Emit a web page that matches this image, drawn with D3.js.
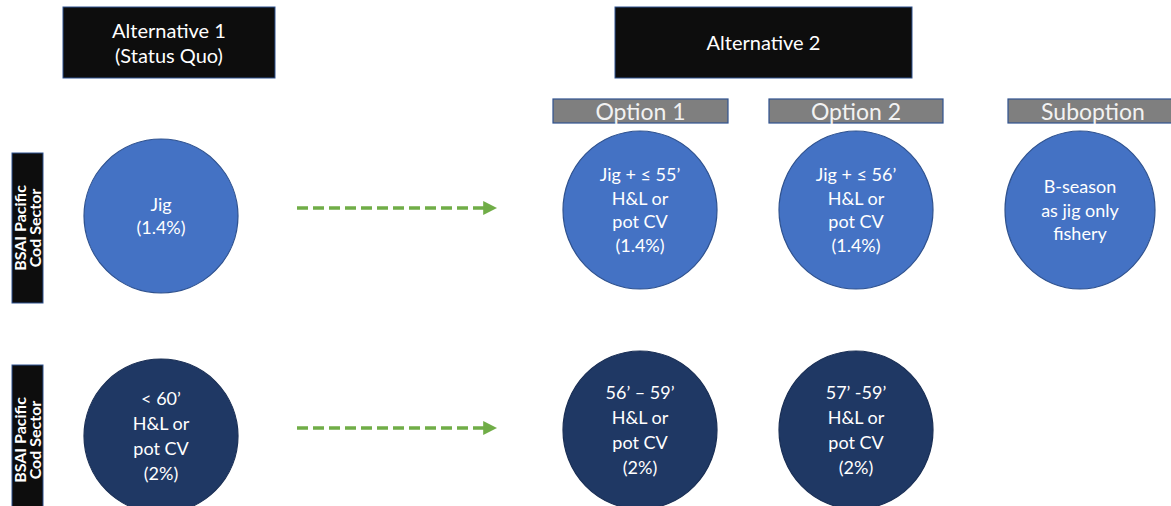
<!DOCTYPE html>
<html>
<head>
<meta charset="utf-8">
<script src="https://cdn.jsdelivr.net/npm/d3@7"></script>
<style>
  html, body { margin: 0; padding: 0; background: #fff; }
  svg { display: block; }
  text { font-family: Lato, "Open Sans", sans-serif; }
</style>
</head>
<body>
<svg id="chart" width="1171" height="506"></svg>
<script>
// column keys and the two alternative headers
const columns = ['status', 'opt1', 'opt2', 'sub'];
const headers = [
  { key: 'alt1', lines: ['Alternative 1', '(Status Quo)'] },
  { key: 'alt2', lines: ['Alternative 2'] },
];
const options = [
  { col: 'opt1', label: 'Option 1' },
  { col: 'opt2', label: 'Option 2' },
  { col: 'sub', label: 'Suboption' },
];
const rows = ['jig', 'small'];
const rowLabels = ['BSAI Pacific', 'Cod Sector'];

const circles = [
  { row: 'jig', col: 'status', lines: ['Jig', '(1.4%)'] },
  { row: 'jig', col: 'opt1', lines: ['Jig + \u2264 55\u2019', 'H&L or', 'pot CV', '(1.4%)'] },
  { row: 'jig', col: 'opt2', lines: ['Jig + \u2264 56\u2019', 'H&L or', 'pot CV', '(1.4%)'] },
  { row: 'jig', col: 'sub', lines: ['B-season', 'as jig only', 'fishery'] },
  { row: 'small', col: 'status', lines: ['< 60\u2019', 'H&L or', 'pot CV', '(2%)'] },
  { row: 'small', col: 'opt1', lines: ['56\u2019 \u2013 59\u2019', 'H&L or', 'pot CV', '(2%)'] },
  { row: 'small', col: 'opt2', lines: ['57\u2019 -59\u2019', 'H&L or', 'pot CV', '(2%)'] },
];

const svg = d3.select('#chart');

// layout scales
const x = d3.scaleOrdinal().domain(columns).range([161, 640, 856, 1080]);
const y = d3.scaleOrdinal().domain(rows).range([216, 436]);
const fill = d3.scaleOrdinal().domain(rows).range(['#4472c4', '#1f3864']);
const border = d3.scaleOrdinal().domain(rows).range(['#2f528f', '#1a2f55']);
const lineGap = d3.scaleOrdinal().domain(rows).range([23.5, 25]);

// header boxes
const headerBox = {
  alt1: { x0: 63, x1: 275 },
  alt2: { x0: 615, x1: 912 },
};
const hdr = svg.selectAll('g.header').data(headers).join('g').attr('class', 'header');
hdr.append('rect')
  .attr('x', (d) => headerBox[d.key].x0)
  .attr('y', 7)
  .attr('width', (d) => headerBox[d.key].x1 - headerBox[d.key].x0)
  .attr('height', 71)
  .attr('fill', '#0d0d0d')
  .attr('stroke', '#2f528f')
  .attr('stroke-width', 1);
hdr.append('text')
  .attr('fill', '#fff')
  .attr('font-size', 20)
  .attr('text-anchor', 'middle')
  .selectAll('tspan')
  .data((d) => d.lines.map((l, i) => ({ l, i, n: d.lines.length, d })))
  .join('tspan')
  .attr('x', (t) => (headerBox[t.d.key].x0 + headerBox[t.d.key].x1) / 2)
  .attr('y', (t) => 43 + (t.i - (t.n - 1) / 2) * 25 + 7)
  .text((t) => t.l);

// option tabs
const tab = {
  opt1: { x0: 553, x1: 728 },
  opt2: { x0: 769, x1: 943 },
  sub: { x0: 1008, x1: 1176 },
};
const opt = svg.selectAll('g.opt').data(options).join('g').attr('class', 'opt');
opt.append('rect')
  .attr('x', (d) => tab[d.col].x0)
  .attr('y', 99)
  .attr('width', (d) => tab[d.col].x1 - tab[d.col].x0)
  .attr('height', 24)
  .attr('fill', '#7f7f7f')
  .attr('stroke', '#2f528f')
  .attr('stroke-width', 1.2);
opt.append('text')
  .attr('x', (d) => d.col === 'sub' ? 1093 : (tab[d.col].x0 + tab[d.col].x1) / 2)
  .attr('y', 120)
  .attr('text-anchor', 'middle')
  .attr('font-size', 23)
  .attr('fill', '#f2f2f2')
  .text((d) => d.label);

// row labels (rotated)
const rowBox = d3.scaleOrdinal().domain(rows).range([153, 365]);
const rl = svg.selectAll('g.rowlabel').data(rows).join('g').attr('class', 'rowlabel');
rl.append('rect')
  .attr('x', 12)
  .attr('y', (d) => rowBox(d))
  .attr('width', 31)
  .attr('height', 150)
  .attr('fill', '#0d0d0d')
  .attr('stroke', '#2f528f')
  .attr('stroke-width', 1);
rl.append('text')
  .attr('transform', (d) => `translate(28,${rowBox(d) + 75}) rotate(-90)`)
  .attr('text-anchor', 'middle')
  .attr('fill', '#fff')
  .attr('font-size', 16)
  .attr('font-weight', 700)
  .selectAll('tspan')
  .data(rowLabels.map((l, i) => ({ l, i })))
  .join('tspan')
  .attr('x', 0)
  .attr('y', (t) => (t.i - 0.5) * 15.5 + 5.5)
  .text((t) => t.l);

// dashed arrows
const defs = svg.append('defs');
defs.append('marker')
  .attr('id', 'head')
  .attr('viewBox', '0 0 10 10')
  .attr('refX', 2)
  .attr('refY', 5)
  .attr('markerWidth', 4)
  .attr('markerHeight', 4)
  .attr('orient', 'auto')
  .append('path')
  .attr('d', 'M0,0L10,5L0,10Z')
  .attr('fill', '#70ad47');
svg.selectAll('line.arrow').data(rows).join('line')
  .attr('class', 'arrow')
  .attr('x1', 297)
  .attr('x2', 486)
  .attr('y1', (d) => y(d) - 8)
  .attr('y2', (d) => y(d) - 8)
  .attr('stroke', '#70ad47')
  .attr('stroke-width', 3.5)
  .attr('stroke-dasharray', '11 5')
  .attr('marker-end', 'url(#head)');

// circles
const c = svg.selectAll('g.circle').data(circles).join('g').attr('class', 'circle')
  .attr('transform', (d) => `translate(${x(d.col)},${y(d.row) - (d.col === 'status' ? 0 : 6)})`);
c.append('ellipse')
  .attr('rx', (d) => (d.col === 'sub' ? 75 : 77))
  .attr('ry', (d) => (d.col === 'status' ? 77 : 79))
  .attr('fill', (d) => fill(d.row))
  .attr('stroke', (d) => border(d.row))
  .attr('stroke-width', 1.2);
c.append('text')
  .attr('text-anchor', 'middle')
  .attr('fill', '#fff')
  .attr('font-size', 18)
  .selectAll('tspan')
  .data((d) => d.lines.map((l, i) => ({ l, i, n: d.lines.length, row: d.row })))
  .join('tspan')
  .attr('x', 0)
  .attr('y', (t) => (t.i - (t.n - 1) / 2) * lineGap(t.row) + 6.5)
  .text((t) => t.l);
</script>
</body>
</html>
